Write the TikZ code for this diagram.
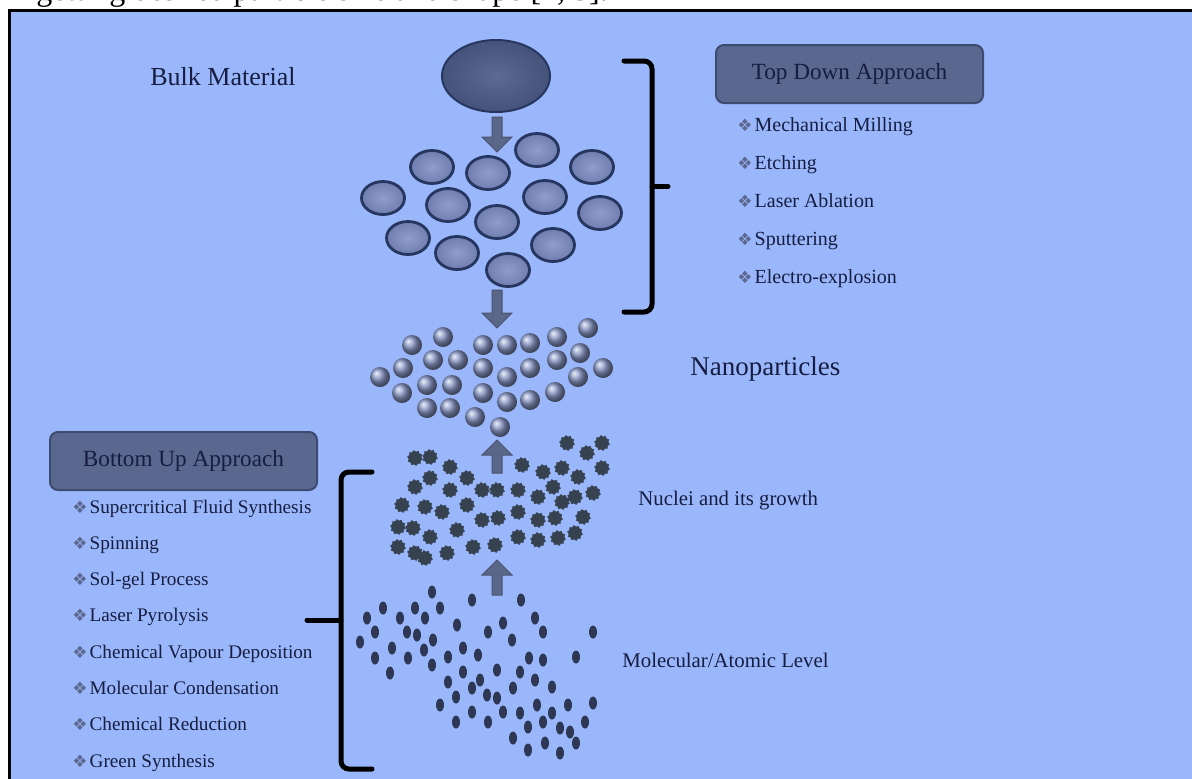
\documentclass[tikz,border=0pt]{standalone}
\usepackage{fontspec}
\setmainfont{Liberation Serif}
\newfontfamily\symbfont{DejaVu Sans}
\usetikzlibrary{shapes.geometric}

\definecolor{bgblue}{HTML}{9AB7FC}
\definecolor{inkblue}{HTML}{161D40}
\definecolor{boxfill}{HTML}{5A6890}
\definecolor{boxline}{HTML}{3E4B70}
\definecolor{arrowgray}{HTML}{5B6789}
\definecolor{bulkin}{HTML}{5B6B94}
\definecolor{bulkout}{HTML}{45527A}
\definecolor{grainin}{HTML}{8E9DCA}
\definecolor{grainout}{HTML}{6F7EAF}
\definecolor{grainline}{HTML}{26365F}
\definecolor{nanocol}{HTML}{8A98C6}
\definecolor{nucleuscol}{HTML}{36424F}
\definecolor{atomcol}{HTML}{2E3854}
\definecolor{diamondcol}{HTML}{5C6790}

% small diamond in front of each method
\newcommand\methoditem[1]{{\symbfont\color{diamondcol}\fontsize{8.5}{9}\selectfont ❖}\hspace{1pt}#1}

\tikzset{
  approachbox/.style={draw=boxline, fill=boxfill, rounded corners=4pt, line width=1pt,
    minimum width=133.5pt, minimum height=29pt, text=inkblue, font=\fontsize{11.6}{13}\selectfont},
  stagetext/.style={anchor=base west, inner sep=0pt, text=inkblue},
  methodtext/.style={anchor=base west, inner sep=0pt, text=inkblue},
  bulk/.style={ellipse, draw=grainline, line width=1pt, inner color=bulkin, outer color=bulkout,
    minimum width=54pt, minimum height=36pt, inner sep=0pt},
  grain/.style={ellipse, draw=grainline, line width=1.4pt, inner color=grainin, outer color=grainout,
    minimum width=21.5pt, minimum height=16.5pt, inner sep=0pt},
  nano/.style={circle, shading=ball, ball color=nanocol, minimum size=10pt, inner sep=0pt},
  nucleus/.style={star, star points=10, star point ratio=1.25, fill=nucleuscol, draw=nucleuscol,
    line width=0.3pt, minimum size=7.5pt, inner sep=0pt, rotate=9},
  atom/.style={ellipse, fill=atomcol, minimum width=4pt, minimum height=6.5pt, inner sep=0pt},
  blockarrow/.style={fill=arrowgray, draw=arrowgray!80!black, line width=0.5pt},
  bracket/.style={line width=2.5pt, line cap=round, rounded corners=4pt},
}

\begin{document}
\begin{tikzpicture}[x=0.5pt, y=-0.5pt]

    \useasboundingbox (0,0) rectangle (1192,778);
    \clip (0,0) rectangle (1192,778);

    % Running text above the figure
    \node[anchor=base west, inner sep=0pt, font=\fontsize{16}{19}\selectfont] (runtext) at (36,0.5)
        {getting desired particle size and shape [4, 5].};

    % Frame and background
    \draw[line width=1.5pt, fill=bgblue] (9.5,10.5) rectangle (1250,850);

    %% Top down side

    % Bulk material broken into grains
    \node[bulk] (bulk) at (496,76) {};
    \foreach \x/\y in {432/167, 488/173, 537/150, 592/167, 383/198, 448/205, 545/197,
                       497/222, 600/213, 408/238, 457/253, 553/245, 508/270}
        \node[grain] at (\x,\y) {};

    % Nanoparticles
    \foreach \x/\y in {588/328, 443/337, 557/337, 412/345, 483/345, 507/345, 530/343,
                       580/353, 433/360, 458/360, 557/360, 403/368, 483/368, 530/368,
                       603/368, 380/377, 507/377, 578/377, 427/385, 452/385, 402/393,
                       483/393, 555/392, 507/402, 530/400, 427/408, 450/408, 475/417, 500/427}
        \node[nano] at (\x,\y) {};

    %% Bottom up side

    % Nuclei
    \foreach \x/\y in {415/458, 430/457, 450/467, 467/478, 522/465, 543/472, 562/468, 567/443,
                       587/453, 602/443, 602/468, 415/487, 430/478, 450/490, 482/490, 497/490,
                       518/490, 538/497, 553/487, 578/477, 575/497, 593/493, 402/505, 425/507,
                       442/512, 467/505, 482/520, 498/518, 518/512, 538/520, 555/518, 562/502,
                       583/517, 398/527, 413/528, 430/537, 457/530, 473/547, 495/545, 518/537,
                       538/540, 558/538, 575/533, 398/547, 415/553, 425/558, 447/553}
        \node[nucleus] at (\x,\y) {};

    % Atoms and molecules
    \foreach \x/\y in {432/592, 472/600, 521/600, 383/608, 400/618, 415/608, 425/618, 440/608,
                       457/625, 503/623, 535/618, 367/618, 375/632, 407/632, 417/635, 433/640,
                       488/632, 512/640, 543/632, 593/632, 360/642, 392/648, 424/650, 448/657,
                       463/648, 478/655, 529/658, 543/660, 576/657, 375/658, 408/658, 432/665,
                       463/672, 497/670, 520/672, 390/673, 448/682, 480/680, 535/680, 552/687,
                       513/688, 456/697, 472/688, 487/695, 497/698, 440/705, 472/712, 503/712,
                       520/713, 537/705, 552/713, 568/705, 593/703, 456/722, 488/722, 543/722,
                       560/728, 570/732, 585/722, 513/738, 528/750, 545/743, 560/753, 576/743, 528/727}
        \node[atom] at (\x,\y) {};

    % Block arrows between the stages
    \foreach \ya/\yh/\yb in {117/137/152, 290/313/328, 473/455/440, 595/575/560}
        \draw[blockarrow] (492,\ya) -- (492,\yh) -- (482,\yh) -- (497,\yb)
                          -- (512,\yh) -- (502,\yh) -- (502,\ya) -- cycle;

    % Brackets
    \draw[bracket] (624,61) -- (652,61) -- (652,312) -- (624,312);
    \draw[bracket] (652,186.5) -- (668,186.5);
    \draw[bracket] (372,472) -- (341,472) -- (341,769) -- (372,769);
    \draw[bracket] (341,620) -- (307,620);

    % Stage labels
    \node[stagetext, font=\fontsize{13}{15}\selectfont] (bulktext) at (150,85) {Bulk Material};
    \node[stagetext, font=\fontsize{13.5}{16}\selectfont] (nanotext) at (690,375) {Nanoparticles};
    \node[stagetext, font=\fontsize{10.4}{12}\selectfont] (nucleitext) at (638,505) {Nuclei and its growth};
    \node[stagetext, font=\fontsize{10.4}{12}\selectfont] (atomtext) at (622,667) {Molecular/Atomic Level};

    % Approaches and their methods
    \node[approachbox] (topdown) at (849.5,74) {Top Down Approach};
    \foreach \name [count=\i from 0] in {Mechanical Milling, Etching, Laser Ablation,
                                         Sputtering, Electro-explosion}
        \node[methodtext, font=\fontsize{10}{12}\selectfont] (td\i) at (737,{131+38*\i}) {\methoditem{\name}};

    \node[approachbox] (bottomup) at (183.5,461) {Bottom Up Approach};
    \foreach \name [count=\i from 0] in {Supercritical Fluid Synthesis, Spinning, Sol-gel Process,
                                         Laser Pyrolysis, Chemical Vapour Deposition,
                                         Molecular Condensation, Chemical Reduction, Green Synthesis}
        \node[methodtext, font=\fontsize{9.6}{11}\selectfont] (bu\i) at (72,{513+36.3*\i}) {\methoditem{\name}};

\end{tikzpicture}
\end{document}
